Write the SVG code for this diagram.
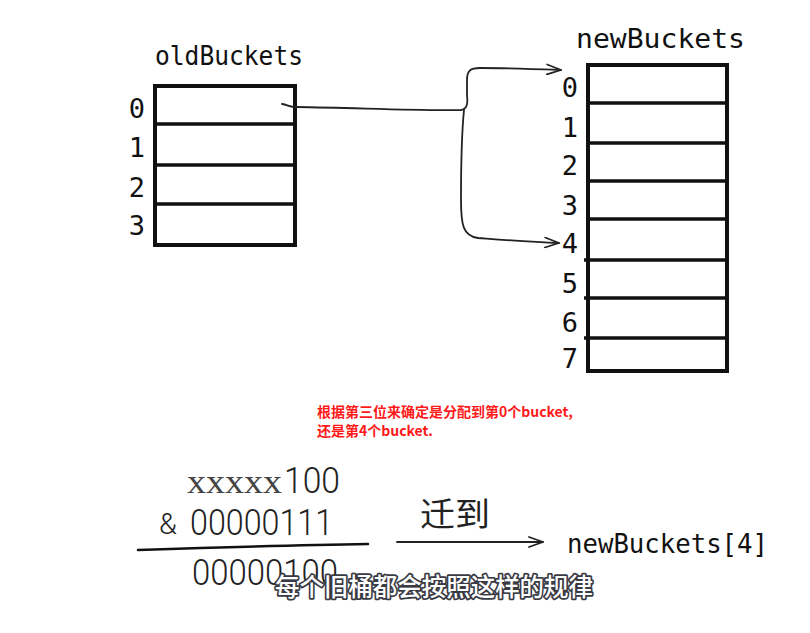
<svg xmlns="http://www.w3.org/2000/svg" width="810" height="633" viewBox="0 0 810 633">
<defs>
<style>
.box{fill:#fff;stroke:#111;stroke-width:4}
.div{stroke:#111;stroke-width:3.5}
.hand{font-family:"DejaVu Sans Mono",monospace;fill:#111}
.idx{font-family:"DejaVu Sans Mono",monospace;font-size:27px;fill:#111;text-anchor:middle}
.num{font-family:Roboto,"Liberation Sans",Arial,sans-serif;font-weight:300;font-size:36px;fill:#222}
.conn{fill:none;stroke:#222;stroke-width:1.8;stroke-linecap:round;stroke-linejoin:round}
.red{font-family:"Noto Sans CJK SC",sans-serif;font-size:14px;font-weight:bold;fill:#ff1a1a}
</style>
<marker id="chev" viewBox="0 0 16 12" refX="15" refY="6" markerWidth="16" markerHeight="12" markerUnits="userSpaceOnUse" orient="auto">
<path d="M1,1 L15,6 L1,11" fill="none" stroke="#222" stroke-width="1.8" stroke-linecap="round" stroke-linejoin="round"/>
</marker>
</defs>
<rect width="810" height="633" fill="#fff"/>

<g id="oldBuckets">
<text class="hand" x="155" y="65" font-size="26" textLength="148" lengthAdjust="spacingAndGlyphs">oldBuckets</text>
<rect class="box" x="155" y="86" width="140" height="159"/>
<line class="div" x1="155" y1="124" x2="295" y2="124"/>
<line class="div" x1="155" y1="165" x2="295" y2="165"/>
<line class="div" x1="155" y1="204" x2="295" y2="204"/>
<text class="idx" x="137" y="118">0</text>
<text class="idx" x="137" y="157">1</text>
<text class="idx" x="137" y="197">2</text>
<text class="idx" x="137" y="235">3</text>
</g>

<g id="newBuckets">
<text class="hand" x="576" y="48" font-size="26" textLength="169" lengthAdjust="spacingAndGlyphs">newBuckets</text>
<rect class="box" x="588" y="65" width="139" height="306"/>
<line class="div" x1="588" y1="103" x2="727" y2="103"/>
<line class="div" x1="588" y1="143" x2="727" y2="143"/>
<line class="div" x1="588" y1="181" x2="727" y2="181"/>
<line class="div" x1="588" y1="219" x2="727" y2="219"/>
<line class="div" x1="584" y1="260" x2="725" y2="260"/>
<line class="div" x1="584" y1="298" x2="725" y2="298"/>
<line class="div" x1="584" y1="338" x2="725" y2="338"/>
<text class="idx" x="570" y="97">0</text>
<text class="idx" x="570" y="137">1</text>
<text class="idx" x="570" y="175">2</text>
<text class="idx" x="570" y="215">3</text>
<text class="idx" x="570" y="253">4</text>
<text class="idx" x="570" y="293">5</text>
<text class="idx" x="570" y="332">6</text>
<text class="idx" x="570" y="368">7</text>
</g>

<g id="connectors">
<path class="conn" d="M282,104 C288,105 290,107 296,107 C360,108 420,111 461,110 C467,109 468,104 467,95 L467,80 C467,71 470,68 480,68 C510,68 535,69 561,70" marker-end="url(#chev)"/>
<path class="conn" d="M464,110 C462,130 461,160 461,200 C461,225 463,236 478,238 C505,240 530,242 559,243" marker-end="url(#chev)"/>
<path class="conn" d="M397,542 L543,542" marker-end="url(#chev)"/>
</g>

<g id="note">
<text class="red" x="317" y="417">根据第三位来确定是分配到第0个bucket,</text>
<text class="red" x="317" y="436">还是第4个bucket.</text>
</g>

<g id="expression">
<text x="187" y="493" font-family="Liberation Serif,serif" font-size="34" fill="#444" textLength="95" lengthAdjust="spacingAndGlyphs">xxxxx</text>
<text class="num" x="284" y="493" textLength="56" lengthAdjust="spacingAndGlyphs">100</text>
<text x="159" y="534" font-family="Roboto,Liberation Sans,Arial,sans-serif" font-weight="300" font-size="29" fill="#222">&amp;</text>
<text class="num" x="190" y="535" textLength="143" lengthAdjust="spacingAndGlyphs">00000111</text>
<path d="M138,550 C200,548 300,545 368,544" fill="none" stroke="#111" stroke-width="2.5" stroke-linecap="round"/>
<text class="num" x="192" y="585" textLength="146" lengthAdjust="spacingAndGlyphs">00000100</text>
</g>

<g id="migrate">
<text x="420" y="526" font-family="Noto Sans CJK SC,sans-serif" font-size="33" fill="#222" textLength="70" lengthAdjust="spacingAndGlyphs">迁到</text>
<text class="hand" x="567" y="553" font-size="27" textLength="201" lengthAdjust="spacingAndGlyphs">newBuckets[4]</text>
</g>

<g id="subtitle">
<text x="275" y="596" font-family="Noto Sans CJK SC,sans-serif" font-size="25" font-weight="500" fill="#fff" stroke="#3a3a44" stroke-width="3.5" stroke-linejoin="round" paint-order="stroke" textLength="318" lengthAdjust="spacingAndGlyphs">每个旧桶都会按照这样的规律</text>
</g>
</svg>
